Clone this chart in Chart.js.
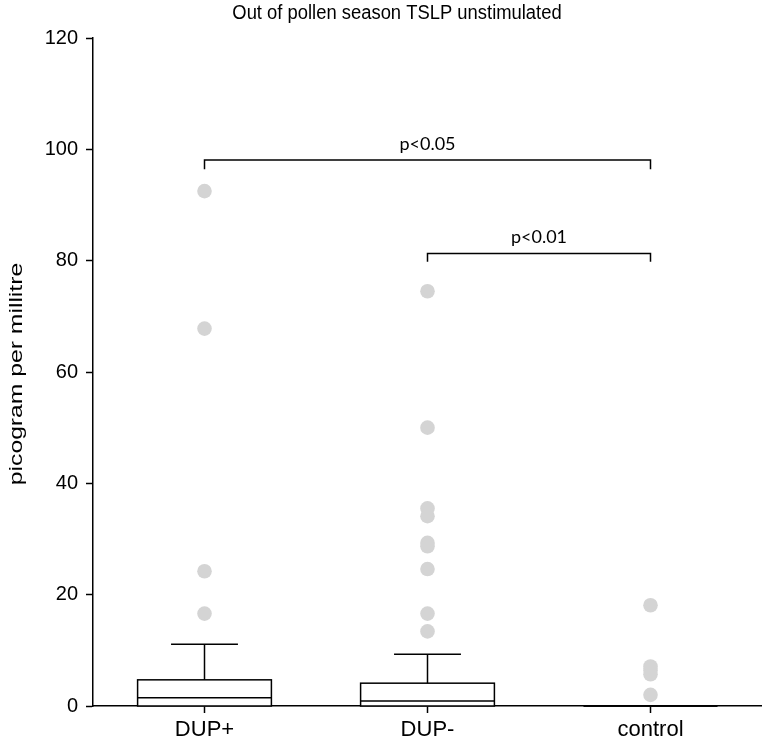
<!DOCTYPE html>
<html>
<head>
<meta charset="utf-8">
<script src="https://cdn.jsdelivr.net/npm/chart.js@4.4.1/dist/chart.umd.min.js"></script>
<style>
html,body{margin:0;padding:0;background:#fff;}
#wrap{width:762px;height:741px;position:relative;}
</style>
</head>
<body>
<div id="wrap"><canvas id="c" width="762" height="741"></canvas></div>
<script>
const categories = ['DUP+', 'DUP-', 'control'];
const whiskerLow = [0, 0, 0];
const boxQ1 = [0, 0, 0];
const medians = [1.5, 0.9, 0];
const boxQ3 = [4.7, 4.1, 0];
const whiskerHigh = [11.1, 9.3, 0];
const outliersDUPplus = [92.5, 67.8, 24.2, 16.6];
const outliersDUPminus = [74.5, 50.0, 35.5, 34.1, 29.3, 28.7, 24.6, 16.6, 13.4];
const outliersControl = [18.1, 7.1, 6.4, 5.7, 2.0];
const yTicks = [0, 20, 40, 60, 80, 100, 120];
const bracketFrom = [0, 1];
const bracketTo = [2, 2];
const bracketHeights = [98.1, 81.3];
const bracketDrops = [96.4, 79.8];
const bracketLabels = ['p<0.05', 'p<0.01'];
const chartTitle = 'Out of pollen season TSLP unstimulated';
const yAxisTitle = 'picogram per millitre';

const FONT = "'Liberation Sans', Arial, sans-serif";
const outlierSets = [outliersDUPplus, outliersDUPminus, outliersControl];
const points = [];
outlierSets.forEach((arr, i) => arr.forEach(v => points.push({x: categories[i], y: v})));

const boxPlugin = {
  id: 'boxes',
  beforeDatasetsDraw(chart) {
    const ctx = chart.ctx, xs = chart.scales.x, ys = chart.scales.y;
    const catW = xs.width / categories.length;
    ctx.save();
    ctx.strokeStyle = '#000';
    ctx.lineWidth = 1.5;
    categories.forEach((c, i) => {
      const cx = xs.getPixelForValue(i);
      const bw = catW * 0.6, cw = catW * 0.3;
      const yq1 = ys.getPixelForValue(boxQ1[i]);
      const yq3 = ys.getPixelForValue(boxQ3[i]);
      const ym = ys.getPixelForValue(medians[i]);
      const yh = ys.getPixelForValue(whiskerHigh[i]);
      const yl = ys.getPixelForValue(whiskerLow[i]);
      ctx.fillStyle = '#fff';
      ctx.fillRect(cx - bw/2, yq3, bw, yq1 - yq3);
      ctx.strokeRect(cx - bw/2, yq3, bw, yq1 - yq3);
      ctx.beginPath();
      ctx.moveTo(cx - bw/2, ym); ctx.lineTo(cx + bw/2, ym);
      ctx.moveTo(cx, yq3); ctx.lineTo(cx, yh);
      ctx.moveTo(cx - cw/2, yh); ctx.lineTo(cx + cw/2, yh);
      ctx.moveTo(cx, yq1); ctx.lineTo(cx, yl);
      ctx.stroke();
    });
    ctx.restore();
  },
  afterDatasetsDraw(chart) {
    const ctx = chart.ctx, xs = chart.scales.x, ys = chart.scales.y;
    ctx.save();
    ctx.strokeStyle = '#000';
    ctx.lineWidth = 1.5;
    ctx.fillStyle = '#000';
    ctx.font = "18px 'Lato', " + FONT;
    ctx.textAlign = 'center';
    ctx.textBaseline = 'middle';
    bracketHeights.forEach((h, i) => {
      const x1 = xs.getPixelForValue(bracketFrom[i]);
      const x2 = xs.getPixelForValue(bracketTo[i]);
      const yb = ys.getPixelForValue(h);
      const yd = ys.getPixelForValue(bracketDrops[i]);
      ctx.beginPath();
      ctx.moveTo(x1, yd); ctx.lineTo(x1, yb); ctx.lineTo(x2, yb); ctx.lineTo(x2, yd);
      ctx.stroke();
      ctx.fillText(bracketLabels[i], (x1 + x2) / 2, yb - 16);
    });
    ctx.restore();
  },
  afterDraw(chart) {
    const ctx = chart.ctx;
    ctx.save();
    ctx.fillStyle = '#000';
    ctx.textAlign = 'center';
    ctx.textBaseline = 'middle';
    ctx.save();
    ctx.translate(397, 13);
    ctx.scale(0.92, 1);
    ctx.font = "20px " + FONT;
    ctx.fillText(chartTitle, 0, 0);
    ctx.restore();
    ctx.save();
    ctx.translate(17, 374);
    ctx.rotate(-Math.PI / 2);
    ctx.scale(1.3, 1);
    ctx.font = "19px " + FONT;
    ctx.fillText(yAxisTitle, 0, 0);
    ctx.restore();
    ctx.restore();
  }
};

new Chart(document.getElementById('c'), {
  type: 'scatter',
  data: {
    datasets: [{
      data: points,
      backgroundColor: '#d4d4d4',
      borderWidth: 0,
      pointRadius: 7.3,
      pointHoverRadius: 7.3
    }]
  },
  plugins: [boxPlugin],
  options: {
    responsive: false,
    animation: false,
    events: [],
    layout: {autoPadding: false, padding: {left: 0, right: 0, top: 38, bottom: 0}},
    plugins: {
      legend: {display: false},
      tooltip: {enabled: false},
      title: {display: false}
    },
    scales: {
      x: {
        type: 'category',
        labels: categories,
        offset: true,
        grid: {display: true, drawOnChartArea: false, drawTicks: true, tickLength: 7, tickColor: '#000', tickWidth: 1.5, offset: false},
        border: {display: true, color: '#000', width: 1.5},
        ticks: {color: '#000', font: {family: FONT, size: 22}, padding: 4, maxRotation: 0},
        afterFit(s) { s.height = 35; }
      },
      y: {
        type: 'linear',
        min: 0, max: 120,
        afterBuildTicks(s) { s.ticks = yTicks.map(v => ({value: v})); },
        grid: {display: true, drawOnChartArea: false, drawTicks: true, tickLength: 7, tickColor: '#000', tickWidth: 1.5},
        border: {display: true, color: '#000', width: 1.5},
        ticks: {color: '#000', font: {family: FONT, size: 20}, padding: 8},
        title: {display: false},
        afterFit(s) { s.width = 93; }
      }
    }
  }
});
</script>
</body>
</html>
